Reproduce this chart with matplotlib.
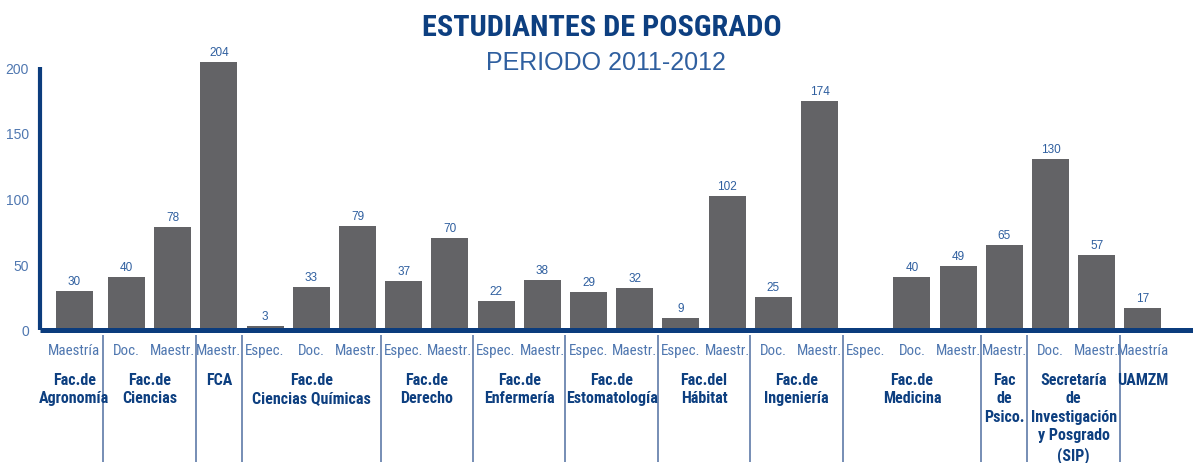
import matplotlib
matplotlib.use("Agg")
import matplotlib.pyplot as plt
from matplotlib import font_manager
from matplotlib.transforms import blended_transform_factory
import numpy as np

# ---- data ----
categories = ['Maestría', 'Doc.', 'Maestr.', 'Maestr.', 'Espec.', 'Doc.', 'Maestr.',
              'Espec.', 'Maestr.', 'Espec.', 'Maestr.', 'Espec.', 'Maestr.',
              'Espec.', 'Maestr.', 'Doc.', 'Maestr.', 'Espec.', 'Doc.', 'Maestr.',
              'Maestr.', 'Doc.', 'Maestr.', 'Maestría']
values = [30, 40, 78, 204, 3, 33, 79, 37, 70, 22, 38, 29, 32, 9, 102, 25, 174,
          0, 40, 49, 65, 130, 57, 17]
group_labels = ['Fac.de\nAgronomía', 'Fac.de\nCiencias', 'FCA', 'Fac.de\nCiencias Químicas',
                'Fac.de\nDerecho', 'Fac.de\nEnfermería', 'Fac.de\nEstomatología',
                'Fac.del\nHábitat', 'Fac.de\nIngeniería', 'Fac.de\nMedicina',
                'Fac\nde\nPsico.', 'Secretaría\nde\nInvestigación\ny Posgrado\n(SIP)', 'UAMZM']
group_sizes = [1, 2, 1, 3, 2, 2, 2, 2, 2, 3, 1, 2, 1]
yticks = [0, 50, 100, 150, 200]

# ---- fonts ----
names = {f.name for f in font_manager.fontManager.ttflist}

def pick(cands):
    for c in cands:
        if c in names:
            return c
    return 'DejaVu Sans'

COND = pick(['Roboto Condensed', 'Liberation Sans Narrow', 'DejaVu Sans'])
REG = pick(['Liberation Sans', 'Roboto', 'DejaVu Sans'])

BAR = '#636366'
AXBLUE = '#0b3c7d'
DARK = '#0d3f80'
MID = '#2f5f9f'
LIGHT = '#4f77b0'
SEP = '#5f7aa8'

W, H = 1193, 464
fig = plt.figure(figsize=(W / 100, H / 100), dpi=100)
base_px = 331
ppu = 1.315
ymax = 220
ax_h = ymax * ppu
ax = fig.add_axes([40 / W, (H - base_px) / H, (W - 40) / W, ax_h / H])

n = len(values)
pos = np.arange(n, dtype=float)
pos[0] -= 0.13
xmin = -0.872
ax.set_xlim(xmin, xmin + (W - 40) / 46.2)
ax.set_ylim(0, ymax)

ax.bar(pos, values, width=0.8, color=BAR, zorder=2)
for p, v in zip(pos, values):
    if v > 0:
        ax.text(p, v + 3, str(v), ha='center', va='bottom', fontsize=8.5,
                color=MID, family=REG)

for s in ['top', 'right']:
    ax.spines[s].set_visible(False)
ax.spines['left'].set_color(AXBLUE)
ax.spines['left'].set_linewidth(3.0)
ax.spines['left'].set_bounds(0, 200)
ax.spines['bottom'].set_color(AXBLUE)
ax.spines['bottom'].set_linewidth(3.6)
ax.spines['bottom'].set_capstyle('butt')
ax.spines['left'].set_capstyle('butt')

ax.set_xticks([])
ax.set_yticks(yticks)
ax.set_yticklabels([str(t) for t in yticks], family=REG, fontsize=10, color=LIGHT)
ax.tick_params(axis='y', length=0, pad=8)

tr = blended_transform_factory(ax.transData, fig.transFigure)
def fy(py):
    return (H - py) / H

# category labels
for p, c in zip(pos, categories):
    ax.text(p, fy(351), c, transform=tr, ha='center', va='center', fontsize=10.8,
            color=LIGHT, family=COND, clip_on=False)

# group labels and separators
start = 0
for gl, gs in zip(group_labels, group_sizes):
    idx = list(range(start, start + gs))
    center = np.mean(pos[idx])
    ax.text(center, fy(373), gl, transform=tr, ha='center', va='top', fontsize=11.5,
            fontweight='bold', color=DARK, family=COND, linespacing=1.29, clip_on=False)
    end = start + gs
    if end < n:
        b = (end - 0.5)
        ax.plot([b, b], [fy(336), fy(463)], transform=tr, color=SEP, lw=1.2,
                clip_on=False, solid_capstyle='butt')
    start = end

fig.text(602 / W, fy(28), 'ESTUDIANTES DE POSGRADO', ha='center', va='center',
         fontsize=21.7, fontweight='bold', color=DARK, family=COND)
fig.text(606 / W, fy(63), 'PERIODO 2011-2012', ha='center', va='center',
         fontsize=18, color=MID, family=REG)

fig.savefig('out.png', dpi=100)
